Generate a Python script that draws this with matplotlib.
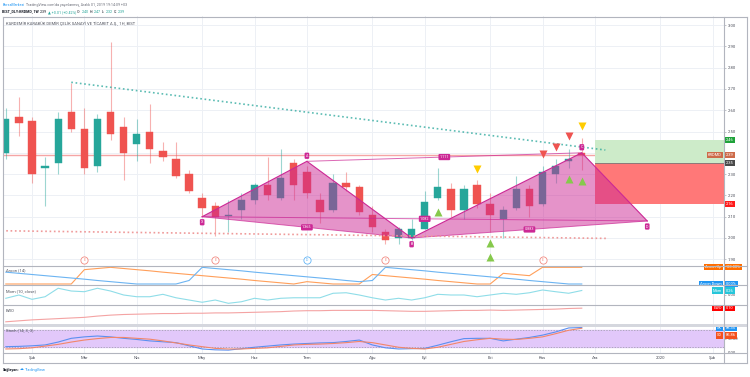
import numpy as np
import matplotlib
matplotlib.use("Agg")
import matplotlib.pyplot as plt
from matplotlib.patches import Rectangle, Polygon
from matplotlib.lines import Line2D

plt.rcParams['font.family'] = ['Roboto', 'DejaVu Sans']

W, H = 750, 377

# ---------------- data ----------------
# weekly bars; index 0 = week of 2019-02-04
bar_idx = list(range(-2, 43))
opens = [2.40, 2.57, 2.55, 2.33, 2.35, 2.59, 2.51, 2.34, 2.59, 2.52, 2.44, 2.50, 2.41, 2.37, 2.30,
         2.19, 2.15, 2.105, 2.13, 2.18, 2.25, 2.19, 2.35, 2.31, 2.18, 2.13, 2.26, 2.24, 2.11, 2.03,
         2.00, 2.00, 2.04, 2.19, 2.23, 2.13, 2.25, 2.16, 2.09, 2.14, 2.23, 2.16, 2.30, 2.36, 2.40]
highs = [2.61, 2.66, 2.57, 2.38, 2.59, 2.73, 2.61, 2.58, 2.92, 2.57, 2.56, 2.63, 2.45, 2.45, 2.32,
         2.21, 2.17, 2.18, 2.21, 2.26, 2.38, 2.42, 2.37, 2.34, 2.21, 2.30, 2.31, 2.25, 2.15, 2.04,
         2.05, 2.09, 2.22, 2.33, 2.26, 2.25, 2.27, 2.21, 2.15, 2.29, 2.25, 2.34, 2.37, 2.42, 2.47]
lows = [2.37, 2.48, 2.26, 2.15, 2.30, 2.50, 2.30, 2.31, 2.46, 2.27, 2.36, 2.35, 2.36, 2.28, 2.21,
        2.10, 2.01, 2.03, 2.09, 2.16, 2.18, 2.18, 2.18, 2.19, 2.07, 2.12, 2.22, 2.11, 2.03, 1.97,
        1.97, 1.99, 2.04, 2.18, 2.10, 2.09, 2.14, 2.03, 2.00, 2.13, 2.10, 2.15, 2.26, 2.33, 2.32]
closes = [2.56, 2.54, 2.30, 2.34, 2.56, 2.51, 2.33, 2.56, 2.49, 2.40, 2.49, 2.42, 2.38, 2.29, 2.22,
          2.14, 2.10, 2.11, 2.18, 2.25, 2.20, 2.28, 2.25, 2.21, 2.12, 2.26, 2.24, 2.12, 2.05, 1.99,
          2.04, 2.04, 2.17, 2.24, 2.13, 2.23, 2.16, 2.11, 2.13, 2.23, 2.15, 2.31, 2.34, 2.37, 2.39]

month_tick_idx = [0, 4, 8, 13, 17, 21, 26, 30, 35, 39, 43, 48, 52]
month_tick_lbl = ["Şub", "Mar", "Nis", "May", "Haz", "Tem", "Ağu", "Eyl", "Eki", "Kas", "Ara", "2020", "Şub"]
price_ticks = [1.90, 2.00, 2.10, 2.20, 2.30, 2.40, 2.50, 2.60, 2.70, 2.80, 2.90, 3.00]
hidden_price_ticks = [2.40]   # covered by the last-price tag in the reference

aroon_up = [0, 0, 0, 0, 0, 0, 86, 93, 100, 93, 86, 79, 71, 64, 57, 50, 43, 36, 29, 21, 14, 7, 0,
            14, 7, 0, 0, 0, 57, 50, 43, 36, 29, 21, 14, 7, 0, 0, 64, 57, 50, 100, 100, 100, 100]
aroon_down = [71, 64, 57, 50, 43, 36, 29, 21, 14, 7, 0, 0, 0, 0, 21, 100, 93, 86, 79, 71, 64, 57,
              50, 43, 36, 29, 21, 14, 21, 100, 93, 86, 79, 71, 64, 57, 50, 43, 36, 29, 21, 14, 7, 0, 0]
mom = [-0.19, 0.00, -0.25, -0.10, 0.39, 0.23, 0.19, 0.39, 0.23, 0.00, -0.10, -0.10, 0.04, -0.16,
       -0.29, -0.42, -0.29, -0.48, -0.39, -0.19, -0.29, -0.19, -0.16, -0.16, -0.16, 0.10, 0.13,
       0.00, -0.16, -0.29, -0.19, -0.29, -0.16, 0.04, 0.00, 0.00, -0.10, 0.00, 0.10, 0.04, 0.13,
       0.29, 0.19, 0.10, 0.26]
ewo = [-0.33, -0.30, -0.27, -0.25, -0.23, -0.21, -0.19, -0.15, -0.12, -0.10, -0.09, -0.08, -0.07,
       -0.07, -0.06, -0.06, -0.05, -0.05, -0.04, -0.03, -0.02, -0.01, 0.01, 0.02, 0.02, 0.03, 0.03,
       0.03, 0.03, 0.02, 0.01, 0.00, 0.00, 0.01, 0.02, 0.03, 0.03, 0.04, 0.03, 0.04, 0.05, 0.06,
       0.07, 0.09, 0.10]
stoch_k = [22, 23, 25, 28, 38, 51, 56, 59, 56, 51, 47, 42, 39, 36, 25, 14, 11, 10, 15, 20, 24, 28,
           31, 33, 35, 36, 40, 45, 28, 18, 14, 15, 16, 27, 39, 50, 51, 51, 42, 48, 54, 62, 73, 87, 88.35]
stoch_d = [14, 15, 18, 24, 30, 38, 45, 50, 54, 54, 51, 48, 42, 35, 28, 22, 16, 14, 14, 16, 18, 23,
           28, 30, 31, 33, 36, 40, 36, 28, 20, 16, 14, 20, 30, 40, 46, 51, 48, 47, 51, 56, 67, 79, 85.86]

# XABCD pattern
pat_names = ["X", "A", "B", "C", "D"]
pat_x = [13, 21, 29, 42, 47]
pat_y = [2.10, 2.36, 2.00, 2.40, 2.08]
ratio_pairs = [("X", "B", "1.365"), ("A", "C", "1.111"), ("X", "D", "1.082"), ("B", "D", "0.883")]

# drawings
trend_x, trend_y = [3, 43.8], [2.731, 2.413]
support_x, support_y = [-2.3, 44.0], [2.034, 1.998]
last_price = 2.39
pos_x = [43, 60]
pos_entry, pos_target, pos_stop = 2.35, 2.46, 2.16

sig_yellow_x, sig_yellow_y = [34, 42], [2.322, 2.526]
sig_red_x, sig_red_y = [39, 40, 41], [2.394, 2.426, 2.479]
sig_green_x, sig_green_y = [31, 35, 35, 41, 42], [2.123, 1.975, 1.912, 2.276, 2.268]
events_x = [4, 14, 21, 27, 39]
events_lbl = ["E", "E", "D", "E", "E"]

# ---------------- figure ----------------
fig = plt.figure(figsize=(7.5, 3.77), dpi=100)
fig.patch.set_facecolor('white')


def rect(x0, y0, x1, y1):
    return [x0 / W, 1 - y1 / H, (x1 - x0) / W, (y1 - y0) / H]


XL = (-2.215, 52.865)
ax = fig.add_axes(rect(3, 16, 724, 266))
ax_ar = fig.add_axes(rect(3, 266, 724, 285))
ax_mom = fig.add_axes(rect(3, 285, 724, 305))
ax_ewo = fig.add_axes(rect(3, 305, 724, 324))
ax_st = fig.add_axes(rect(3, 324, 724, 353))
axes = [ax, ax_ar, ax_mom, ax_ewo, ax_st]

GRID = '#edf0f5'
AXC = '#b2b5be'
TXT = '#50535e'
for a in axes:
    a.set_xlim(XL)
    for s in a.spines.values():
        s.set_visible(False)
    for t in month_tick_idx:
        a.axvline(t, color=GRID, lw=0.7, zorder=0)
    a.set_xticks([])
    a.set_yticks([])

# ----- main price panel -----
ax.set_ylim(1.8685, 3.0423)
for p in price_ticks:
    ax.axhline(p, color=GRID, lw=0.7, zorder=0)
ax.yaxis.tick_right()
ax.set_yticks(price_ticks)
ax.set_yticklabels(["" if p in hidden_price_ticks else f"{p:.2f}" for p in price_ticks])
ax.tick_params(axis='y', length=1.5, width=0.4, color='#9598a1', labelsize=3.1, labelcolor=TXT, pad=1)

up_c, dn_c = '#26a69a', '#ef5350'
x = np.array(bar_idx, dtype=float)
o, h, l, c = map(np.array, (opens, highs, lows, closes))
cols = np.where(c >= o, up_c, dn_c)
ax.vlines(x, l, h, colors=cols, lw=0.8, alpha=0.45, zorder=3)
body_bot = np.minimum(o, c)
body_h = np.maximum(np.abs(c - o), 0.004)
ax.bar(x, body_h, bottom=body_bot, width=0.56, color=cols, edgecolor=cols, lw=0.3, zorder=3)

# price line
ax.axhline(last_price, color='#f5a5a5', lw=1.0, zorder=1.5)

# position tool
ax.add_patch(Rectangle((pos_x[0], pos_entry), pos_x[1] - pos_x[0], pos_target - pos_entry,
                       fc='#cdebc9', ec='none', zorder=2))
ax.add_patch(Rectangle((pos_x[0], pos_stop), pos_x[1] - pos_x[0], pos_entry - pos_stop,
                       fc='#ff7878', ec='none', zorder=2))
ax.plot(pos_x, [pos_entry, pos_entry], color='#7a7a7a', lw=0.6, zorder=2.2)

# XABCD pattern
PC = '#cc2895'
P = dict(zip(pat_names, zip(pat_x, pat_y)))
ax.add_patch(Polygon([P["X"], P["A"], P["B"]], closed=True, fc=PC, alpha=0.5, ec='none', zorder=4))
ax.add_patch(Polygon([P["B"], P["C"], P["D"]], closed=True, fc=PC, alpha=0.5, ec='none', zorder=4))
ax.plot(pat_x, pat_y, color=PC, lw=0.8, zorder=4.5)
for a_, b_, _ in ratio_pairs:
    ax.plot([P[a_][0], P[b_][0]], [P[a_][1], P[b_][1]], color=PC, lw=0.7, alpha=0.7, zorder=4.5)
for a_, b_, r in ratio_pairs:
    mx = (P[a_][0] + P[b_][0]) / 2
    my = (P[a_][1] + P[b_][1]) / 2
    ax.text(mx, my, r, fontsize=2.7, color='white', ha='center', va='center', zorder=7,
            bbox=dict(boxstyle='round,pad=0.3', fc=PC, ec='none'))
offs = {"X": -4, "A": 4, "B": -4.5, "C": 4, "D": -4}
for n in pat_names:
    ax.annotate(n, xy=P[n], xytext=(0, offs[n]), textcoords='offset points', fontsize=2.7,
                color='white', ha='center', va='center', zorder=7,
                bbox=dict(boxstyle='round,pad=0.3', fc=PC, ec='none'))

# trend lines
ax.plot(trend_x, trend_y, color='#26a69a', lw=1.2, ls=(0, (1, 1.6)), alpha=0.75, zorder=5,
        dash_capstyle='butt')
ax.plot(support_x, support_y, color='#ef9a9a', lw=1.2, ls=(0, (1, 1.6)), zorder=5,
        dash_capstyle='butt')

# signal markers
ax.plot(sig_yellow_x, sig_yellow_y, 'v', color='#ffcc00', ms=5.5, mec='none', ls='none', zorder=6)
ax.plot(sig_red_x, sig_red_y, 'v', color='#ef5350', ms=5.5, mec='none', ls='none', zorder=6)
ax.plot(sig_green_x, sig_green_y, '^', color='#86c94c', ms=5.5, mec='none', ls='none', zorder=6)

# events
for ex, el in zip(events_x, events_lbl):
    ec = '#64b5f6' if el == "D" else '#f28b82'
    ax.plot([ex], [1.897], 'o', ms=5.2, mfc='white', mec=ec, mew=0.6, zorder=6, clip_on=False)
    ax.text(ex, 1.897, el, fontsize=2.6, color=ec, ha='center', va='center', zorder=7)

fig.text(6 / W, 1 - 23.5 / H, "KARDEMİR KARABÜK DEMİR ÇELİK SANAYİ VE TİCARET A.Ş., 1H, BIST",
         fontsize=3.0, color=TXT, va='center')


def value_tag(a, val, txt, fc, off=0):
    a.annotate(txt, xy=(1.0, val), xycoords=a.get_yaxis_transform(), xytext=(1.6, off),
               textcoords='offset points', ha='left', va='center', fontsize=2.9, color='white',
               bbox=dict(boxstyle='square,pad=0.25', fc=fc, ec='none'), annotation_clip=False,
               zorder=10)


def name_tag(a, val, txt, fc, off=0):
    a.annotate(txt, xy=(1.0, val), xycoords=a.get_yaxis_transform(), xytext=(-1.6, off),
               textcoords='offset points', ha='right', va='center', fontsize=2.9, color='white',
               bbox=dict(boxstyle='square,pad=0.25', fc=fc, ec='none'), annotation_clip=False,
               zorder=10)


value_tag(ax, pos_target, f"{pos_target:.2f}", '#1fa23a')
name_tag(ax, last_price, "KRDMD", '#cd6b4a')
value_tag(ax, last_price, f"{last_price:.2f}", '#cd6b4a')
value_tag(ax, pos_entry, f"{pos_entry:.2f}", '#4a4a4a')
value_tag(ax, pos_stop, f"{pos_stop:.2f}", '#ff1a1a')

# ----- Aroon -----
ax_ar.set_ylim(-6, 108)
ax_ar.plot(x, aroon_up, color='#ff9f5a', lw=0.8, zorder=3)
ax_ar.plot(x, aroon_down, color='#6cb4f2', lw=0.8, zorder=3)
ax_ar.text(0.004, 0.78, "Aroon (14)", transform=ax_ar.transAxes, fontsize=3.0, color=TXT, va='center')
name_tag(ax_ar, aroon_up[-1], "Aroon Up", '#ff6d00')
value_tag(ax_ar, aroon_up[-1], f"{aroon_up[-1]:.2f}%", '#ff6d00')
name_tag(ax_ar, aroon_down[-1], "Aroon Down", '#2196f3')
value_tag(ax_ar, aroon_down[-1], f"{aroon_down[-1]:.2f}%", '#2196f3')

# ----- Mom -----
ax_mom.set_ylim(-0.578, 0.578)
ax_mom.plot(x, mom, color='#8fdde8', lw=0.8, zorder=3)
ax_mom.yaxis.tick_right()
ax_mom.set_yticks([0])
ax_mom.set_yticklabels(["0.00"])
ax_mom.tick_params(axis='y', length=1.5, width=0.4, color='#9598a1', labelsize=3.1, labelcolor=TXT, pad=1)
ax_mom.text(0.004, 0.7, "Mom (10, close)", transform=ax_mom.transAxes, fontsize=3.0, color=TXT, va='center')
name_tag(ax_mom, mom[-1], "Mom", '#26c6da')
value_tag(ax_mom, mom[-1], f"{mom[-1]:.2f}", '#26c6da')

# ----- EWO -----
ax_ewo.set_ylim(-0.4, 0.2)
ax_ewo.plot(x, ewo, color='#f4a3a3', lw=0.8, zorder=3)
ax_ewo.text(0.004, 0.68, "EWO", transform=ax_ewo.transAxes, fontsize=3.0, color=TXT, va='center')
name_tag(ax_ewo, ewo[-1], "EWO", '#ff0000')
value_tag(ax_ewo, ewo[-1], f"{ewo[-1]:.2f}", '#ff0000')

# ----- Stoch -----
ax_st.set_ylim(0, 100.7)
ax_st.axhspan(20, 80, color='#e2c8fa', zorder=0.5)
ax_st.axhline(80, color='#9a9aa6', lw=0.5, ls=(0, (2, 2)), zorder=1)
ax_st.axhline(20, color='#9a9aa6', lw=0.5, ls=(0, (2, 2)), zorder=1)
ax_st.plot(x, stoch_k, color='#5b8ff0', lw=0.8, zorder=3)
ax_st.plot(x, stoch_d, color='#f2866a', lw=0.8, zorder=3)
ax_st.yaxis.tick_right()
ax_st.set_yticks([0, 50])
ax_st.set_yticklabels(["0.00", "50.00"])
ax_st.tick_params(axis='y', length=1.5, width=0.4, color='#9598a1', labelsize=3.1, labelcolor=TXT, pad=1)
ax_st.set_xticks(month_tick_idx)
ax_st.set_xticklabels(month_tick_lbl)
ax_st.tick_params(axis='x', length=0, labelsize=3.1, labelcolor=TXT, pad=2.2)
ax_st.text(0.004, 0.78, "Stoch (14, 3, 3)", transform=ax_st.transAxes, fontsize=3.0, color=TXT, va='center')
name_tag(ax_st, stoch_k[-1], "SK", '#2196f3')
value_tag(ax_st, stoch_k[-1], f"{stoch_k[-1]:.2f}", '#2196f3')
name_tag(ax_st, stoch_d[-1], "SD", '#f4511e', off=-5.2)
value_tag(ax_st, stoch_d[-1], f"{stoch_d[-1]:.2f}", '#f4511e', off=-5.2)

# ----- frame lines -----
def fline(x0, y0, x1, y1, color=AXC, lw=0.8):
    fig.add_artist(Line2D([x0 / W, x1 / W], [1 - y0 / H, 1 - y1 / H], transform=fig.transFigure,
                          color=color, lw=lw, zorder=20))


fline(3, 16.5, 747, 16.5)
fline(3, 16.5, 3, 363)
fline(746.5, 16.5, 746.5, 363)
fline(724, 16.5, 724, 363)
for yy in (266, 285, 305, 353, 363):
    fline(3, yy, 747, yy)
fig.add_artist(Rectangle((3 / W, 1 - 326.5 / H), 744 / W, 2.5 / H, transform=fig.transFigure,
                         fc='#d5d7de', ec='none', zorder=19))

# ----- header / footer -----
renderer = fig.canvas.get_renderer()


def chain(x0, y0, parts, size):
    xx = x0
    for txt, col, wt in parts:
        t = fig.text(xx / W, 1 - y0 / H, txt, fontsize=size, color=col, fontweight=wt, va='center')
        bb = t.get_window_extent(renderer=renderer)
        xx = bb.x1 + 1.0


chain(2.5, 4.6, [("BorsaMerkezi", '#2196f3', 'normal'),
                 ("TradingView.com'da yayınlanmış, Aralık 01, 2019 19:14:09 +03", '#6a6d78', 'normal')], 2.6)
TEAL = '#26a69a'
chain(2.0, 12.4, [("BIST_DLY:KRDMD, 1W", '#131722', 'bold'), ("2.39", '#131722', 'normal'),
                  ("▲ +0.01 (+0.42%)", TEAL, 'normal'), ("O:", '#131722', 'normal'),
                  ("2.40", TEAL, 'normal'), ("H:", '#131722', 'normal'), ("2.47", TEAL, 'normal'),
                  ("L:", '#131722', 'normal'), ("2.32", TEAL, 'normal'), ("C:", '#131722', 'normal'),
                  ("2.39", TEAL, 'normal')], 2.6)
chain(2.5, 369.5, [("Sağlayan:", '#131722', 'bold'), ("☁", '#2196f3', 'normal'),
                   ("TradingView", '#2196f3', 'normal')], 2.7)

fig.savefig("out.png", dpi=100, facecolor='white')
